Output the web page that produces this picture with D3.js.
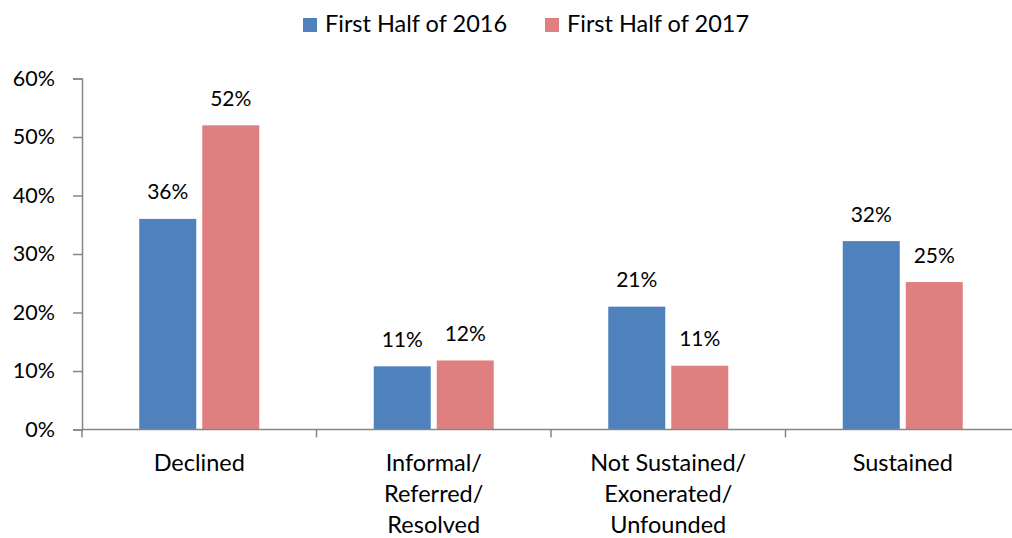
<!DOCTYPE html>
<html><head><meta charset="utf-8">
<script src="https://cdn.jsdelivr.net/npm/d3@7"></script>
<style>body{margin:0;background:#fff;} text{font-family:Lato,"Open Sans",sans-serif;fill:#000;}</style>
</head><body>
<svg id="c" width="1012" height="538"></svg>
<script>
const categories = [["Declined"], ["Informal/","Referred/","Resolved"], ["Not Sustained/","Exonerated/","Unfounded"], ["Sustained"]];
const seriesNames = ["First Half of 2016", "First Half of 2017"];
const values2016 = [0.36, 0.108, 0.21, 0.322];
const values2017 = [0.52, 0.118, 0.109, 0.252];
const labels2016 = ["36%", "11%", "21%", "32%"];
const labels2017 = ["52%", "12%", "11%", "25%"];
const yTicks = [0, 0.1, 0.2, 0.3, 0.4, 0.5, 0.6];
const colors = ["#4f81bd", "#e07f7f"];

(function(){
const svg = d3.select("#c");
const pl = 82, pr = 1020, pt = 78.5, pb = 429.5;
const x = d3.scaleBand().domain(d3.range(categories.length)).range([pl, pr]);
const y = d3.scaleLinear().domain([0, 0.6]).range([pb, pt]);
const barW = 57, gap = 6;

// y axis
const yAxis = svg.append("g").attr("transform", `translate(${pl},0)`)
  .call(d3.axisLeft(y).tickValues(yTicks).tickFormat(d3.format(".0%")).tickSize(9).tickPadding(18));
yAxis.select(".domain").attr("stroke", "#868686").attr("stroke-width", 1.5);
yAxis.selectAll(".tick line").attr("stroke", "#868686").attr("stroke-width", 1.5);
yAxis.selectAll(".tick text").attr("font-size", 21.5).attr("font-family", "Lato").attr("fill", "#000");

// bars
const series = [values2016, values2017];
const labs = [labels2016, labels2017];
series.forEach((vals, si) => {
  const g = svg.append("g");
  g.selectAll("rect").data(vals).join("rect")
    .attr("x", (d, i) => x(i) + x.bandwidth()/2 + (si === 0 ? -gap/2 - barW : gap/2))
    .attr("y", d => y(d)).attr("width", barW).attr("height", d => y(0) - y(d))
    .attr("fill", colors[si]);
  g.selectAll("text").data(vals).join("text")
    .attr("x", (d, i) => x(i) + x.bandwidth()/2 + (si === 0 ? -gap/2 - barW/2 : gap/2 + barW/2))
    .attr("y", d => y(d) - 19.5).attr("text-anchor", "middle").attr("font-size", 21)
    .text((d, i) => labs[si][i]);
});

// x axis
const xAxis = svg.append("g").attr("transform", `translate(0,${pb})`);
xAxis.append("line").attr("x1", pl).attr("x2", pr).attr("stroke", "#868686").attr("stroke-width", 1.5);
xAxis.selectAll("line.t").data(d3.range(categories.length + 1)).join("line").attr("class", "t")
  .attr("x1", i => pl + i * x.bandwidth()).attr("x2", i => pl + i * x.bandwidth())
  .attr("y1", 0).attr("y2", 8).attr("stroke", "#868686").attr("stroke-width", 1.5);
categories.forEach((lines, i) => {
  const t = svg.append("text").attr("text-anchor", "middle").attr("font-size", 23.5);
  lines.forEach((ln, j) => t.append("tspan").attr("x", x(i) + x.bandwidth()/2).attr("y", 471 + j * 31).text(ln));
});

// legend
const leg = svg.append("g");
const legX = [303, 545];
seriesNames.forEach((n, i) => {
  leg.append("rect").attr("x", legX[i]).attr("y", 18).attr("width", 14).attr("height", 14).attr("fill", colors[i]);
  leg.append("text").attr("x", legX[i] + 22).attr("y", 31.5).attr("font-size", 23.5).text(n);
});
})();
</script>
</body></html>
